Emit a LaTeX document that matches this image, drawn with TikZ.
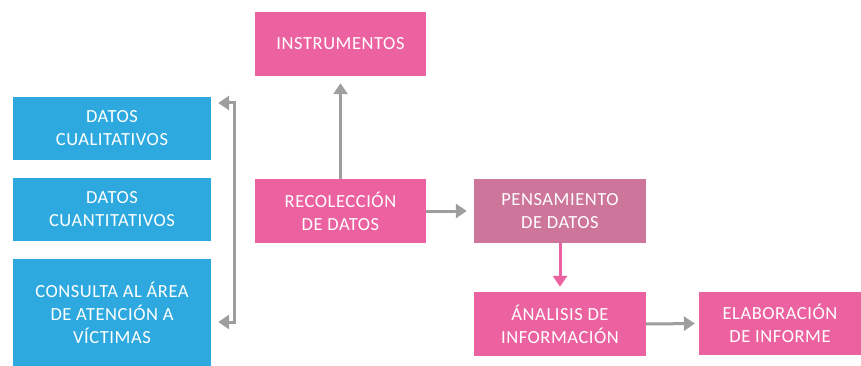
\documentclass[tikz,border=0pt]{standalone}
\usepackage{fontspec}
\setmainfont{Carlito}
\newfontfamily\letracaja[LetterSpace=3]{Carlito}
\usetikzlibrary{arrows.meta}
\definecolor{azul}{RGB}{46,169,224}
\definecolor{rosa}{RGB}{236,98,160}
\definecolor{malva}{RGB}{205,117,155}
\definecolor{gris}{RGB}{158,158,158}
\begin{document}
\begin{tikzpicture}[x=1pt,y=1pt,yscale=-1,
    caja/.style={fill=rosa, text=white, align=center, inner sep=0pt,
      minimum width=171pt, minimum height=64pt,
      font=\letracaja\fontsize{18.5}{23}\selectfont},
    cajaazul/.style={caja, fill=azul, minimum width=198pt, minimum height=63pt},
    flecha/.style={draw=gris, line width=3pt, -{Triangle[width=14pt,length=11pt]}}]
    \useasboundingbox (0,0) rectangle (861,366);

    % Cajas rosas
    \node [caja] (ins) at (340.5,44) {INSTRUMENTOS};
    \node [caja] (rec) at (340.5,211) {RECOLECCIÓN\\DE DATOS};
    \node [caja, fill=malva, minimum width=172pt] (pen) at (560,211) {PENSAMIENTO\\DE DATOS};
    \node [caja, minimum width=172pt] (ana) at (560,324) {ÁNALISIS DE\\INFORMACIÓN};
    \node [caja, minimum width=162pt, minimum height=63pt] (ela) at (780,323.5) {ELABORACIÓN\\DE INFORME};

    % Cajas azules
    \node [cajaazul] (cual) at (112,128.5) {DATOS\\CUALITATIVOS};
    \node [cajaazul] (cuan) at (112,209.5) {DATOS\\CUANTITATIVOS};
    \node [cajaazul, minimum height=107pt] (cons) at (112,312.5) {CONSULTA AL ÁREA\\DE ATENCIÓN A\\VÍCTIMAS};

    % Flechas
    \draw [flecha, shorten >=7pt] (rec.north) -- (ins.south);
    \draw [flecha, shorten >=7pt] (rec.east) -- (pen.west);
    \draw [flecha, draw=rosa, shorten >=5pt] (pen.south) -- (ana.north);
    \draw [flecha, shorten >=4pt] (ana.east) -- (ela.west);

    % Corchete
    \coordinate (arr) at (234,103);
    \coordinate (abj) at (234,322);
    \draw [flecha, {Triangle[width=14pt,length=11pt]}-{Triangle[width=14pt,length=11pt]}, shorten <=7pt, shorten >=7pt]
      (cual.east |- arr) -- (arr) -- (abj) -- (cons.east |- abj);
\end{tikzpicture}
\end{document}
